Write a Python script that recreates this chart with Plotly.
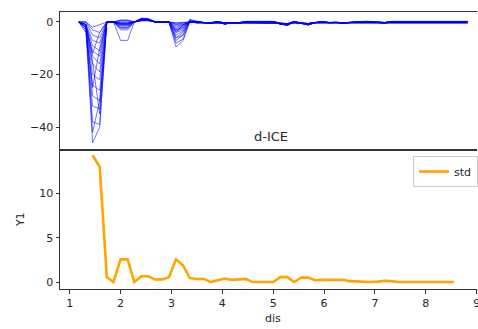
import plotly.graph_objects as go
from plotly.subplots import make_subplots

# x grid (dis)
ice_x = [1.18, 1.32, 1.45, 1.59, 1.73, 1.86, 2.00, 2.14, 2.27, 2.41, 2.54, 2.68, 2.82, 2.95,
         3.09, 3.23, 3.36, 3.50, 3.64, 3.77, 3.91, 4.05, 4.18, 4.32, 4.46, 4.59, 4.73, 4.87,
         5.00, 5.14, 5.28, 5.41, 5.55, 5.69, 5.82, 5.96, 6.10, 6.23, 6.37, 6.50, 6.64, 6.78,
         6.91, 7.05, 7.19, 7.32, 7.46, 7.60, 7.73, 7.87, 8.01, 8.14, 8.28, 8.42, 8.55, 8.69, 8.82]

# d-ICE curves: first part (x 1.18 .. 3.36) per curve
ice_heads = [
    [0, -3, -46, -40, 0, 0, -7, -7, 0, 1.0, 1.0, 0, 0, 0, -9.5, -7, 0],
    [0, -2, -38, -39, 0, 0, -3, -3, 0, 1.2, 1.2, 0, 0, 0, -8, -6.5, 0.5],
    [0, -4, -32, -33, 0, 0, -2.5, -2.5, 0, 1.0, 1.0, 0.3, 0, 0, -7, -5, 1.0],
    [0, -2, -28, -30, 0, 0, -2, -2, 0, 1.5, 1.3, 0, 0, 0, -6, -4, 0],
    [0, -3, -24, -26, 0, 0, -1.5, -1.5, 0, 0.8, 0.8, 0, 0, 0, -5, -3.5, 0.8],
    [0, -1, -20, -22, 0, 0, -1.2, -1.2, 0, 1.0, 1.0, 0, 0, 0, -4, -3, 0],
    [0, -2, -16, -19, 0, 0, -1, -1, 0, 0.5, 0.6, 0, 0, 0, -3.5, -2.5, 0],
    [0, -1, -13, -16, 0, 0, -0.8, -0.8, 0, 1.2, 1.0, 0, 0, 0, -3, -2, 0.5],
    [0, -2, -11, -13, 0, 0, -0.5, -0.5, 0, 0.8, 0.9, 0, 0, 0, -2.5, -1.5, 0],
    [0, -1, -9, -11, 0, 0, -0.5, -0.5, 0, 1.0, 1.0, 0, 0, 0, -2, -1.2, 0],
    [0, -1, -12, -4, 0, 0, -0.3, -0.3, 0, 0.5, 0.5, 0, 0, 0, -1.5, -1, 0],
    [0, -1, -7, -8, 0, 0, -0.2, -0.2, 0, 1.3, 1.3, 0, 0, 0, -1, -0.8, 0],
    [0, 0, -5, -6, 0, 0, 0.5, 0.5, 0, 0.7, 0.7, 0, 0, 0, -0.8, -0.5, 0],
    [0, 0, -3, -4, 0, 0, 0.5, 0.5, 0, 0.5, 0.5, 0, 0, 0, -0.5, -0.3, 0],
    [0, -1, -15, -35, 0, 0, -0.5, -0.5, 0, 1.0, 1.0, 0, 0, 0, -3, -2, 0],
    [0, -2, -25, -10, 0, 0, -1, -1, 0, 0.8, 0.8, 0, 0, 0, -4, -1, 0],
    [0, 0, -2, -1, 0, 0, 0.8, 0.8, 0, 0.6, 0.6, 0, 0, 0, -0.3, -0.2, 0],
    [0, -1, -42, -30, 0, 0, -2, -2, 0, 1.0, 1.0, 0, 0, 0, -6, -5, 0],
]

# d-ICE curves: remaining part (x 3.50 .. 8.82), a few observed variants
ice_tails = [
    [0, -0.3, -0.5, 0, -0.8, -0.3, -0.5, 0, 0, 0, 0, 0, -0.8, -1.2, 0, -0.6, -1.1, -0.3, 0, -0.3,
     -0.2, -0.5, -0.2, 0, 0, 0, -0.2, -0.4, 0, 0, 0, 0, 0, 0, 0, 0, 0, 0, 0, 0],
    [0.2, -0.2, -0.3, 0.2, -0.4, -0.2, -0.3, 0.2, 0.2, 0.2, 0.2, 0.2, -0.5, -0.7, 0.2, -0.4, -0.6,
     -0.2, 0.2, -0.2, -0.1, -0.3, -0.1, 0.2, 0.2, 0.2, -0.1, -0.2, 0.2, 0.2, 0.2, 0.2, 0.2, 0.2,
     0.2, 0.2, 0.2, 0.2, 0.2, 0.2],
    [-0.3, -0.3, -0.4, -0.3, -0.4, -0.3, -0.4, -0.3, -0.3, -0.3, -0.3, -0.3, -0.5, -0.6, -0.3,
     -0.5, -0.6, -0.3, -0.3, -0.3, -0.3, -0.4, -0.3, -0.3, -0.3, -0.3, -0.3, -0.4, -0.3, -0.3,
     -0.3, -0.3, -0.3, -0.3, -0.3, -0.3, -0.3, -0.3, -0.3, -0.3],
]
ice_tail_choice = [0, 0, 1, 0, 1, 2, 1, 2, 0, 1, 2, 2, 1, 2, 1, 0, 2, 0]

# std of d-ICE
std_x = ice_x[2:55]
std_y = [14.3, 13.0, 0.6, 0.05, 2.6, 2.6, 0.05, 0.7, 0.7, 0.35, 0.35, 0.6, 2.6, 1.9, 0.5,
         0.4, 0.4, 0.05, 0.25, 0.45, 0.3, 0.35, 0.4, 0.05, 0.05, 0.05, 0.05, 0.6, 0.6, 0.05,
         0.55, 0.55, 0.25, 0.3, 0.3, 0.25, 0.3, 0.15, 0.1, 0.05, 0.05, 0.1, 0.2, 0.15, 0.05,
         0.05, 0.05, 0.05, 0.1, 0.1, 0.1, 0.05, 0.05]

FONT = "DejaVu Sans"
TXT = "#262626"

fig = make_subplots(rows=2, cols=1, shared_xaxes=True, vertical_spacing=0,
                    row_heights=[0.4964, 0.5036])

for head, tc in zip(ice_heads, ice_tail_choice):
    fig.add_trace(go.Scatter(x=ice_x, y=head + ice_tails[tc], mode="lines",
                             line=dict(color="rgba(0,0,255,0.55)", width=1),
                             showlegend=False, hoverinfo="skip"), row=1, col=1)

fig.add_trace(go.Scatter(x=std_x, y=std_y, mode="lines", name="std",
                         line=dict(color="#ffa500", width=2.6)), row=2, col=1)

axis_common = dict(showline=True, linecolor="#333333", linewidth=1,
                   showgrid=False, zeroline=False, ticks="outside", ticklen=3.5,
                   tickwidth=0.8, tickcolor="#333333", automargin=False,
                   ticklabeloverflow="allow",
                   tickfont=dict(family=FONT, size=11, color=TXT))

fig.update_xaxes(range=[0.81, 9.005], tickvals=[1, 2, 3, 4, 5, 6, 7, 8, 9], mirror=True,
                 **axis_common)
fig.update_xaxes(showticklabels=False, ticks="", row=1, col=1)
fig.update_yaxes(mirror=False, **axis_common)
fig.update_yaxes(range=[-48.5, 3.8], tickvals=[0, -20, -40], row=1, col=1)
fig.update_yaxes(range=[-0.73, 14.94], tickvals=[0, 5, 10], row=2, col=1)

W, H = 478, 329
ML, MR, MT, MB = 60, 0, 12, 40
pw, ph = W - ML - MR, H - MT - MB


def px_to_paper(px, py):
    return (px - ML) / pw, (H - MB - py) / ph


ann = []
for text, px, py, size, angle in [("d-ICE", 272, 136, 13, 0), ("dis", 274, 318, 11, 0),
                                  ("Y1", 20, 220, 11, -90)]:
    xx, yy = px_to_paper(px, py)
    ann.append(dict(text=text, x=xx, y=yy, xref="paper", yref="paper", showarrow=False,
                    xanchor="center", yanchor="middle", textangle=angle,
                    font=dict(family=FONT, size=size, color=TXT)))

lx, ly = px_to_paper(414, 156)

fig.update_layout(
    width=W, height=H,
    margin=dict(l=ML, r=MR, t=MT, b=MB),
    plot_bgcolor="white", paper_bgcolor="white",
    font=dict(family=FONT, size=11, color=TXT),
    legend=dict(x=lx, y=ly, xanchor="left", yanchor="top",
                bgcolor="white", bordercolor="#cccccc", borderwidth=1,
                itemwidth=30, font=dict(family=FONT, size=11, color=TXT)),
    annotations=ann,
)

fig.write_html("out.html", config={"displayModeBar": False},
               post_script="document.body.style.margin='0px';document.body.style.overflow='hidden';")
